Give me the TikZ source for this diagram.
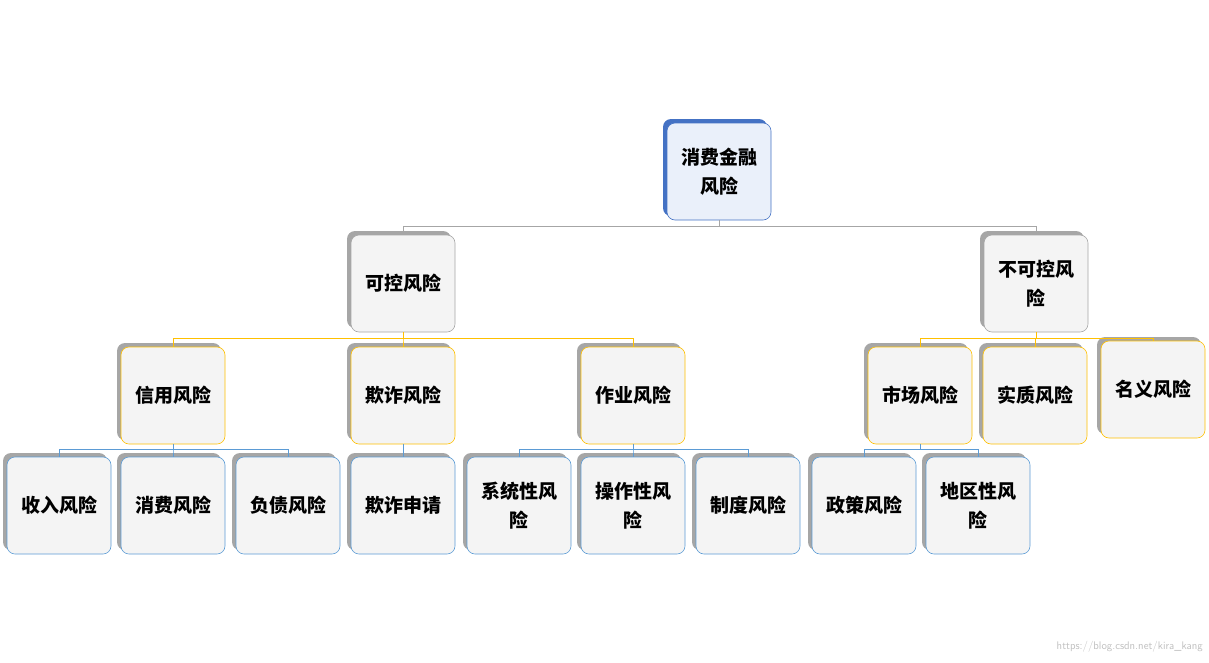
\documentclass[tikz,border=0pt]{standalone}
\usepackage{fontspec}
\newfontfamily\cjk{Noto Sans CJK SC}
\definecolor{sh}{HTML}{A6A6A6}
\definecolor{bl}{HTML}{4472C4}
\definecolor{lb}{HTML}{5B9BD5}
\definecolor{yl}{HTML}{FFC000}
\definecolor{gb}{HTML}{A6A6A6}
\definecolor{fl}{HTML}{F4F4F4}
\definecolor{tf}{HTML}{EAF0FA}
\newcommand\bx[7]{%
  \fill[#4,rounded corners=8pt] (#2,#3) rectangle ++(104,97);
  \node[fill=#5,draw=#6,line width=0.6pt,rounded corners=8pt,minimum width=104pt,minimum height=97pt,inner sep=0pt,align=center,font=\cjk\bfseries\fontsize{19}{29}\selectfont] (#1) at ({#2+56},{#3+52.5}) {#7};}
\tikzset{conn/.style={line width=0.7pt}}
\begin{document}
\begin{tikzpicture}[x=1pt,y=-1pt]
\useasboundingbox (0,0) rectangle (1209,662);
\bx{top}{663}{119}{bl}{tf}{bl}{消费金融\\风险}
\bx{kk}{347}{231}{sh}{fl}{gb}{可控风险}
\bx{bk}{980}{231}{sh}{fl}{gb}{不可控风\\险}
\bx{xy}{117}{343}{sh}{fl}{yl}{信用风险}
\bx{qz}{347}{343}{sh}{fl}{yl}{欺诈风险}
\bx{zy}{577}{343}{sh}{fl}{yl}{作业风险}
\bx{sc}{864}{343}{sh}{fl}{yl}{市场风险}
\bx{sz}{979}{343}{sh}{fl}{yl}{实质风险}
\bx{my}{1097}{337}{sh}{fl}{yl}{名义风险}
\bx{sr}{3}{453}{sh}{fl}{lb}{收入风险}
\bx{xf}{117}{453}{sh}{fl}{lb}{消费风险}
\bx{fz}{232}{453}{sh}{fl}{lb}{负债风险}
\bx{sq}{347}{453}{sh}{fl}{lb}{欺诈申请}
\bx{xt}{463}{453}{sh}{fl}{lb}{系统性风\\险}
\bx{cz}{577}{453}{sh}{fl}{lb}{操作性风\\险}
\bx{zd}{692}{453}{sh}{fl}{lb}{制度风险}
\bx{zc}{808}{453}{sh}{fl}{lb}{政策风险}
\bx{dq}{922}{453}{sh}{fl}{lb}{地区性风\\险}
\begin{scope}[conn,gb]
\foreach \t in {kk,bk} \draw (top.south) -- ++(0,6) -| (\t.north);
\end{scope}
\begin{scope}[conn,yl]
\foreach \t in {xy,qz,zy} \draw (kk.south) -- ++(0,6) -| (\t.north);
\foreach \t in {sc,sz,my} \draw (bk.south) -- ++(0,6) -| ([yshift=-6pt]\t.north |- bk.south) -- (\t.north);
\end{scope}
\begin{scope}[conn,lb]
\foreach \t in {sr,xf,fz} \draw (xy.south) -- ++(0,5) -| (\t.north);
\draw (qz.south) -- (sq.north);
\foreach \t in {xt,cz,zd} \draw (zy.south) -- ++(0,5) -| (\t.north);
\foreach \t in {zc,dq} \draw (sc.south) -- ++(0,5) -| (\t.north);
\end{scope}
\node[anchor=south east,text=black!25,font=\sffamily\fontsize{11}{12}\selectfont,inner sep=0pt] (wm) at (1203,652) {https://blog.csdn.net/kira\_kang};
\end{tikzpicture}
\end{document}
